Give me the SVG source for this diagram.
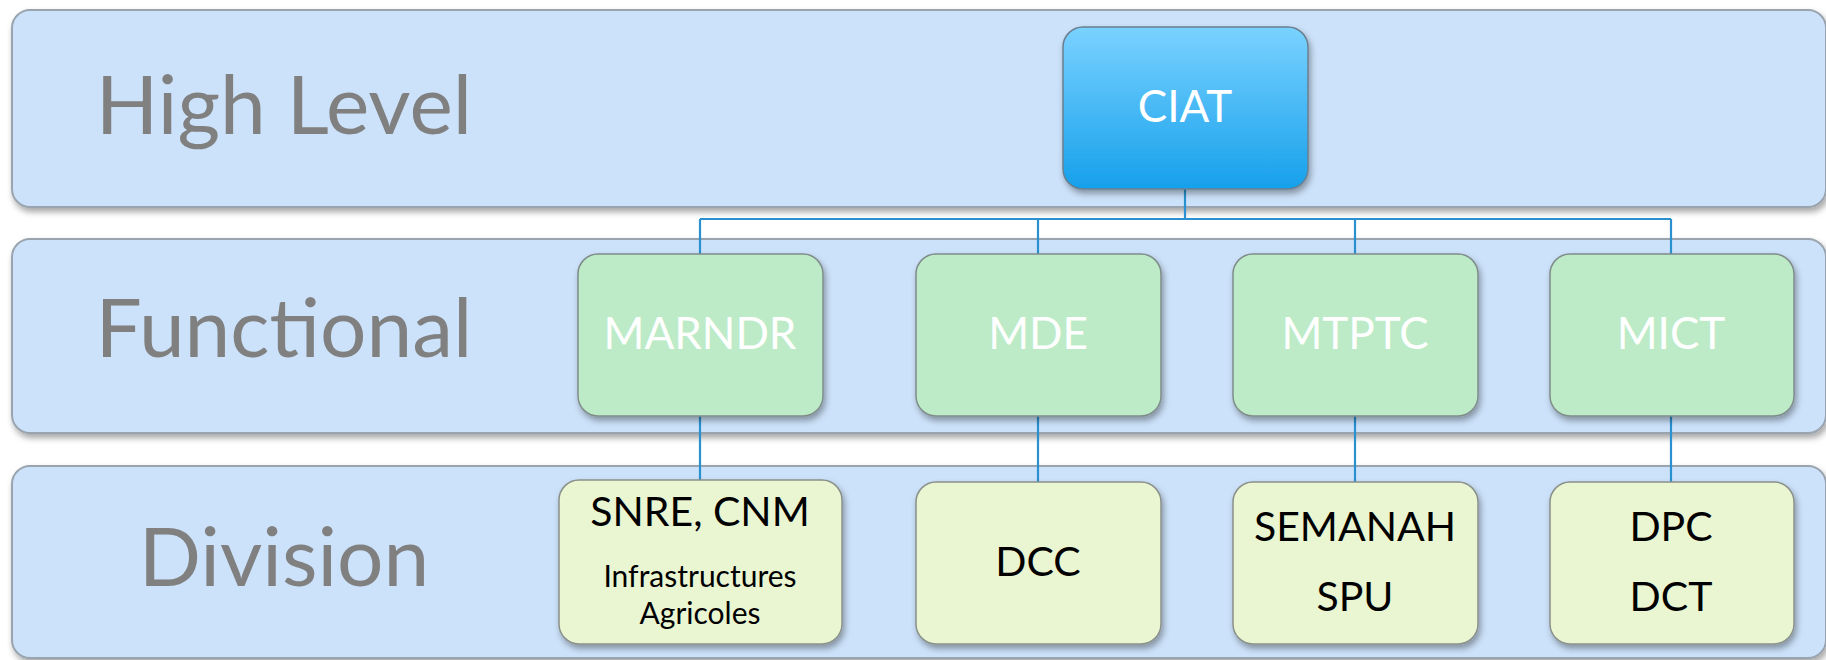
<svg xmlns="http://www.w3.org/2000/svg" width="1826" height="660" viewBox="0 0 1826 660">
<defs>
<filter id="sh" x="-5%" y="-5%" width="115%" height="120%">
<feDropShadow dx="2" dy="4" stdDeviation="3" flood-color="#000" flood-opacity="0.35"/>
</filter>
<linearGradient id="blue" x1="0" y1="0" x2="0" y2="1">
<stop offset="0" stop-color="#7ad2ff"/>
<stop offset="1" stop-color="#16a0eb"/>
</linearGradient>
</defs>
<style>
.band{fill:#cce2fa;stroke:#9aa4ae;stroke-width:2;filter:url(#sh)}
.lbl{font-family:Lato,"Open Sans",sans-serif;font-size:82px;fill:#808080;text-anchor:middle}
.top{fill:url(#blue);stroke:#6a7f90;stroke-width:1.5;filter:url(#sh)}
.fn{fill:#bdebc8;stroke:#7f8c8a;stroke-width:1.5;filter:url(#sh)}
.dv{fill:#eaf5d2;stroke:#8a908a;stroke-width:1.5;filter:url(#sh)}
.wt{font-family:Lato,"Open Sans",sans-serif;font-size:44px;fill:#fff;text-anchor:middle}
.bt{font-family:Lato,"Open Sans",sans-serif;font-size:41px;fill:#000;text-anchor:middle}
.st{font-family:Lato,"Open Sans",sans-serif;font-size:30px;fill:#000;text-anchor:middle}
.cn{fill:none;stroke:#2a90cf;stroke-width:2.2}
</style>
<g id="band-high"><rect class="band" x="12" y="10" width="1814" height="197" rx="18"/><text class="lbl" x="284" y="134">High Level</text></g>
<g id="band-functional"><rect class="band" x="12" y="239" width="1814" height="194" rx="18"/><text class="lbl" x="284" y="357">Functional</text></g>
<g id="band-division"><rect class="band" x="12" y="466" width="1814" height="192" rx="18"/><text class="lbl" x="284" y="586">Division</text></g>
<g id="connectors">
<path class="cn" d="M1185 189V219M700 219H1671M700 219V254M1038 219V254M1355 219V254M1671 219V254"/>
<path class="cn" d="M700 416V480M1038 416V482M1355 416V482M1671 416V482"/>
</g>
<g id="ciat"><rect class="top" x="1063" y="27" width="245" height="162" rx="20"/><text class="wt" x="1185" y="122">CIAT</text></g>
<g id="marndr"><rect class="fn" x="578" y="254" width="245" height="162" rx="20"/><text class="wt" x="700" y="349">MARNDR</text></g>
<g id="mde"><rect class="fn" x="916" y="254" width="245" height="162" rx="20"/><text class="wt" x="1038" y="349">MDE</text></g>
<g id="mtptc"><rect class="fn" x="1233" y="254" width="245" height="162" rx="20"/><text class="wt" x="1355" y="349">MTPTC</text></g>
<g id="mict"><rect class="fn" x="1550" y="254" width="244" height="162" rx="20"/><text class="wt" x="1671" y="349">MICT</text></g>
<g id="snre"><rect class="dv" x="559" y="480" width="283" height="164" rx="20"/><text class="bt" x="700" y="526" font-size="38">SNRE, CNM</text><text class="st" x="700" y="587">Infrastructures</text><text class="st" x="700" y="624">Agricoles</text></g>
<g id="dcc"><rect class="dv" x="916" y="482" width="245" height="162" rx="20"/><text class="bt" x="1038" y="576">DCC</text></g>
<g id="semanah"><rect class="dv" x="1233" y="482" width="245" height="162" rx="20"/><text class="bt" x="1355" y="541">SEMANAH</text><text class="bt" x="1355" y="611">SPU</text></g>
<g id="dpc"><rect class="dv" x="1550" y="482" width="244" height="162" rx="20"/><text class="bt" x="1671" y="541">DPC</text><text class="bt" x="1671" y="611">DCT</text></g>
</svg>
